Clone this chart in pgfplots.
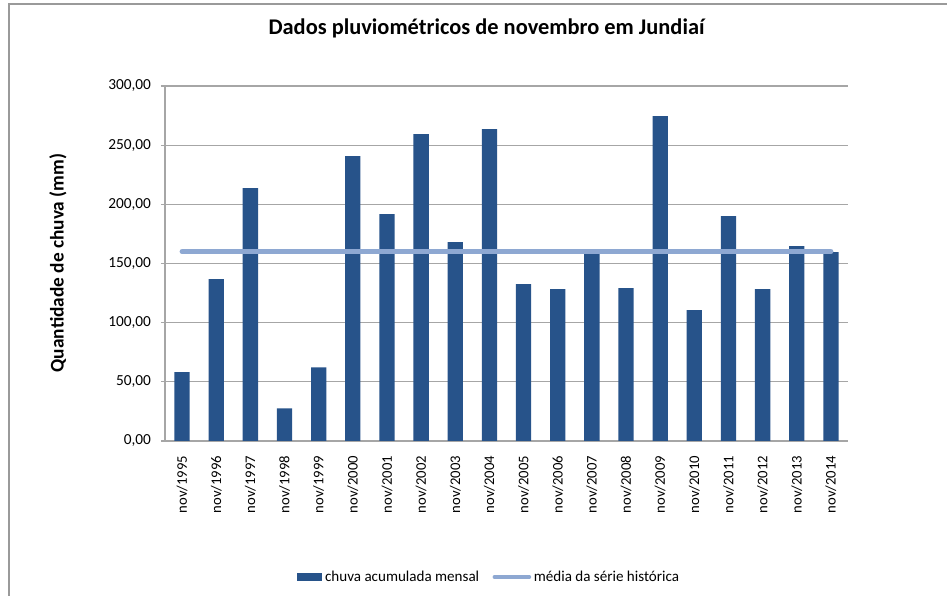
\documentclass[border=0pt]{standalone}
\usepackage{fontspec}
\setmainfont{Carlito}
\usepackage{pgfplots}
\pgfplotsset{compat=1.18}
\definecolor{cBar}{HTML}{27538A}
\definecolor{cMean}{HTML}{8EA8D2}
\definecolor{cGrid}{HTML}{A6A6A6}
\definecolor{cFrame}{HTML}{9A9A9A}

\begin{document}
\begin{tikzpicture}
\useasboundingbox (0,0) rectangle (710.25pt,447pt);
% chart frame (cropped at right and bottom)
\draw[cFrame, line width=0.8pt] (6.75pt,0) -- (6.75pt,444pt) -- (710.25pt,444pt);

\node[font=\fontsize{16.8}{20}\selectfont\bfseries] at (364.9pt,426pt)
  {Dados pluviométricos de novembro em Jundiaí};
\node[font=\fontsize{14.5}{17}\selectfont\bfseries, rotate=90] at (43.5pt,249.75pt)
  {Quantidade de chuva (mm)};

\begin{axis}[
    at={(123.75pt,116.25pt)}, anchor=south west,
    scale only axis,
    width=512.25pt, height=266.25pt,
    xmin=-0.5, xmax=19.5,
    ymin=0, ymax=300,
    ytick={0,50,...,300},
    xtick={0,...,19},
    xticklabels={nov/1995,nov/1996,nov/1997,nov/1998,nov/1999,nov/2000,nov/2001,
      nov/2002,nov/2003,nov/2004,nov/2005,nov/2006,nov/2007,nov/2008,nov/2009,
      nov/2010,nov/2011,nov/2012,nov/2013,nov/2014},
    xticklabel style={font=\fontsize{11}{13}\selectfont, yshift=-8pt, rotate=90, anchor=east, inner sep=0pt},
    yticklabel style={font=\fontsize{11.5}{13}\selectfont, xshift=-4pt, /pgf/number format/.cd, fixed, fixed zerofill, precision=2, use comma, assume math mode=true},
    x tick style={draw=none},
    y tick style={cGrid, line width=0.8pt},
    major tick length=3pt,
    tick align=outside,
    axis x line*=bottom, axis y line*=left,
    axis line style={cGrid, line width=0.8pt, -},
    ymajorgrids, major grid style={cGrid, line width=0.8pt},
    legend columns=2,
    legend style={at={(0.475,-0.383)}, anchor=center, draw=none, fill=none,
      font=\fontsize{11.3}{13}\selectfont, /tikz/every even column/.append style={column sep=8pt}},
]
\addplot[ybar, bar width=11.5pt, fill=cBar, draw=none,
  legend image code/.code={\fill[cBar] (0pt,-3pt) rectangle (19pt,3pt);}]
  coordinates {
  (0,58.1) (1,136.7) (2,213.7) (3,27.6) (4,62.3)
  (5,240.8) (6,191.7) (7,259.4) (8,168.0) (9,263.6)
  (10,132.5) (11,128.3) (12,159.3) (13,129.1) (14,274.6)
  (15,110.5) (16,190.0) (17,128.3) (18,164.6) (19,159.6)
  };
\addlegendentry{chuva acumulada mensal}
\addplot[cMean, line width=3.75pt, line cap=round, mark=none,
  legend image code/.code={\draw[cMean, line width=3pt, line cap=round] (-6pt,0) -- (20pt,0);}]
  coordinates {
  (0,160) (1,160) (2,160) (3,160) (4,160) (5,160) (6,160) (7,160) (8,160) (9,160)
  (10,160) (11,160) (12,160) (13,160) (14,160) (15,160) (16,160) (17,160) (18,160) (19,160)
  };
\addlegendentry{média da série histórica}
\end{axis}
\end{tikzpicture}
\end{document}
